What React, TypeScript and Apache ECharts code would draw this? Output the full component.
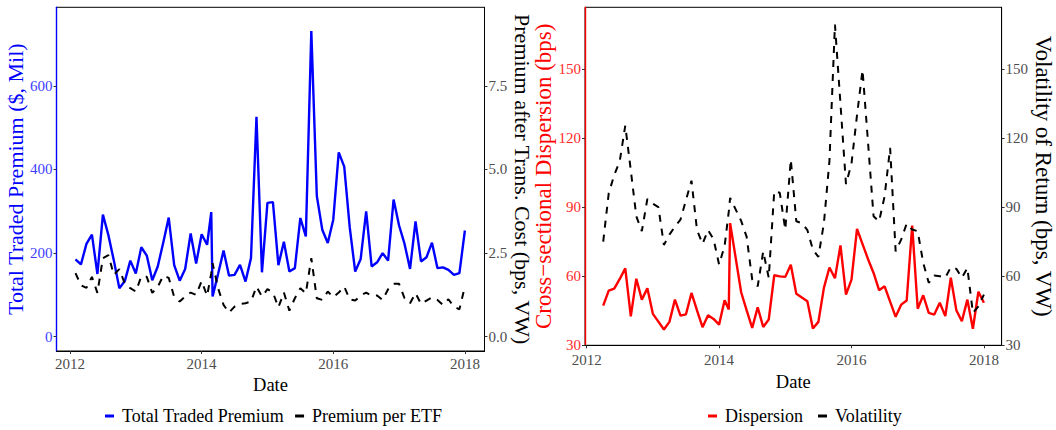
import React, { useEffect, useRef } from 'react';
import * as echarts from 'echarts';

// ---------- Data ----------
const premiumDates = [
  '2012-02', '2012-03', '2012-04', '2012-05', '2012-06', '2012-07', '2012-08', '2012-09', '2012-10', '2012-11', '2012-12',
  '2013-01', '2013-02', '2013-03', '2013-04', '2013-05', '2013-06', '2013-07', '2013-08', '2013-09', '2013-10', '2013-11', '2013-12',
  '2014-01', '2014-02', '2014-02-24', '2014-03', '2014-04', '2014-05', '2014-06', '2014-07', '2014-08', '2014-09', '2014-10', '2014-11', '2014-12',
  '2015-01', '2015-02', '2015-03', '2015-04', '2015-05', '2015-06', '2015-07', '2015-08', '2015-09', '2015-10', '2015-11', '2015-12',
  '2016-01', '2016-02', '2016-03', '2016-04', '2016-05', '2016-06', '2016-07', '2016-08', '2016-09', '2016-10', '2016-11', '2016-12',
  '2017-01', '2017-02', '2017-03', '2017-04', '2017-05', '2017-06', '2017-07', '2017-08', '2017-09', '2017-10', '2017-11', '2017-12',
  '2018-01',
];

// Total Traded Premium ($, Mil)
const totalPremium = [
  185, 173, 222, 244, 150, 292, 243, 182, 116, 133, 182,
  151, 214, 194, 135, 168, 225, 285, 171, 134, 162, 247, 175,
  245, 220, 298, 96, 150, 206, 146, 148, 172, 132, 188, 526, 154,
  320, 322, 171, 227, 156, 164, 284, 240, 731, 337, 256, 224,
  280, 441, 407, 262, 156, 186, 300, 168, 178, 200, 182, 328,
  266, 222, 162, 276, 180, 190, 225, 164, 166, 160, 148, 152,
  254,
];

// Premium after Trans. Cost (bps, VW)
const premiumPerEtf = [
  1.9, 1.54, 1.46, 1.79, 1.31, 2.35, 2.44, 1.85, 2.02, 1.58, 1.45,
  1.35, 1.8, 1.79, 1.31, 1.49, 1.82, 1.76, 1.19, 1.05, 1.2, 1.32, 1.25,
  1.66, 1.22, 1.9, 2.2, 1.45, 0.95, 0.72, 0.9, 0.98, 1.0, 1.05, 1.5, 1.2,
  1.42, 1.32, 0.88, 1.32, 0.78, 1.15, 1.45, 1.3, 2.35, 1.15, 1.1, 1.35,
  1.18, 1.32, 1.5, 1.12, 1.08, 1.23, 1.32, 1.23, 1.23, 1.1, 1.42, 1.58,
  1.58, 1.15, 1.0, 1.3, 0.98, 1.08, 1.18, 1.1, 0.95, 1.12, 0.9, 0.82,
  1.5,
];

const dispDates = [
  '2012-04', '2012-05', '2012-06', '2012-07', '2012-08', '2012-09', '2012-10', '2012-11', '2012-12',
  '2013-01', '2013-02', '2013-03', '2013-04', '2013-05', '2013-06', '2013-07', '2013-08', '2013-09', '2013-10', '2013-11', '2013-12',
  '2014-01', '2014-02', '2014-02-24', '2014-03', '2014-04', '2014-05', '2014-06', '2014-07', '2014-08', '2014-09', '2014-10', '2014-11', '2014-12',
  '2015-01', '2015-02', '2015-03', '2015-04', '2015-05', '2015-06', '2015-07', '2015-08', '2015-09', '2015-10', '2015-11', '2015-12',
  '2016-01', '2016-02', '2016-03', '2016-04', '2016-05', '2016-06', '2016-07', '2016-08', '2016-09', '2016-10', '2016-11', '2016-12',
  '2017-01', '2017-02', '2017-03', '2017-04', '2017-05', '2017-06', '2017-07', '2017-08', '2017-09', '2017-10', '2017-11', '2017-12',
  '2018-01',
];

// Cross-sectional Dispersion (bps)
const dispersion = [
  47.1, 53.6, 54.5, 58.7, 63.3, 42.4, 58.8, 49.7, 54.6,
  43.5, 40.1, 36.7, 40.0, 49.7, 42.7, 43.3, 52.6, 45.0, 37.7, 42.9, 41.3,
  38.8, 49.4, 45.4, 83.0, 68.0, 52.9, 45.0, 37.4, 46.3, 37.8, 41.0, 60.3, 59.8,
  59.6, 64.9, 52.2, 50.6, 49.0, 37.1, 40.0, 54.8, 63.7, 59.0, 73.3, 51.9,
  58.4, 80.5, 73.9, 67.3, 61.3, 53.8, 55.5, 48.8, 42.2, 47.5, 49.3, 81.9,
  45.7, 51.6, 43.9, 43.2, 48.3, 42.5, 59.2, 45.1, 40.3, 49.7, 37.0, 53.1,
  48.3,
];

// Volatility of Return (bps, VW)
const volatility = [
  75, 96, 104, 110, 125.5, 106, 86, 79.5, 93.5,
  91.5, 90, 73.5, 78, 81.5, 84.5, 93, 101.5, 80, 74, 80, 76,
  65, 73, 88, 94, 89, 84, 77, 58.5, 55.5, 70.7, 59.2, 96.9, 96.2,
  80.2, 110.7, 83.8, 83, 80, 71.5, 68.3, 83, 110, 169.5, 135, 100,
  109, 130, 149.7, 118, 86, 83.8, 94.7, 115.8, 70.7, 75.8, 82.8, 80.2,
  79.5, 65.7, 57, 60.2, 59.9, 59.2, 63.8, 63.1, 59.2, 63.5, 43.9, 46.8,
  51.9,
];

const xTickValues = [2012, 2014, 2016, 2018];
const premiumTicks = [0, 200, 400, 600];
const perEtfTicks = [0, 2.5, 5, 7.5];
const dispTicks = [30, 60, 90, 120, 150];
const volTicks = [30, 60, 90, 120, 150];

// ---------- helpers ----------
function toYear(d: string): number {
  const parts = d.split('-').map(Number);
  const y = parts[0];
  const m = parts[1];
  const day = parts[2] || 1;
  return y + (m - 1) / 12 + (day - 1) / 365;
}
function pairs(dates: string[], vals: number[]) {
  return dates.map((d, i) => [toYear(d), vals[i]]);
}

const FONT = '"Liberation Serif", "Times New Roman", serif';
const GRAY = '#4D4D4D';
const TICK = '#333333';
const TICK_FONT = 15;

function xAxis(gridIndex: number, min: number, max: number, nameGap: number, labelMargin: number) {
  return {
    type: 'value',
    gridIndex,
    min,
    max,
    name: 'Date',
    nameLocation: 'middle',
    nameGap,
    nameTextStyle: { fontFamily: FONT, fontSize: 18.5, color: '#000' },
    axisLine: { show: true, onZero: false, lineStyle: { color: '#000', width: 1 } },
    axisTick: { show: true, length: 3, lineStyle: { color: TICK }, customValues: xTickValues },
    axisLabel: {
      customValues: xTickValues,
      color: GRAY,
      fontFamily: FONT,
      fontSize: TICK_FONT,
      margin: labelMargin,
      formatter: (v: number) => String(v),
    },
    splitLine: { show: false },
  };
}

function yAxis(opts: {
  gridIndex: number;
  position: 'left' | 'right';
  min: number;
  max: number;
  ticks: number[];
  name: string;
  nameColor: string;
  nameSize: number;
  nameGap: number;
  lineColor: string;
  labelColor: string;
  digits: number;
}) {
  return {
    type: 'value',
    gridIndex: opts.gridIndex,
    position: opts.position,
    min: opts.min,
    max: opts.max,
    name: opts.name,
    nameLocation: 'middle',
    nameGap: opts.nameGap,
    nameRotate: opts.position === 'left' ? 90 : -90,
    nameTextStyle: { fontFamily: FONT, fontSize: opts.nameSize, color: opts.nameColor },
    axisLine: { show: true, onZero: false, lineStyle: { color: opts.lineColor, width: opts.position === 'left' ? 1.4 : 1 } },
    axisTick: { show: true, length: 3, lineStyle: { color: TICK }, customValues: opts.ticks },
    axisLabel: {
      customValues: opts.ticks,
      color: opts.labelColor,
      fontFamily: FONT,
      fontSize: TICK_FONT,
      margin: 4,
      formatter: (v: number) => v.toFixed(opts.digits),
    },
    splitLine: { show: false },
  };
}

export default function App() {
  const ref = useRef<HTMLDivElement>(null);

  useEffect(() => {
    if (!ref.current) return;
    const chart = echarts.init(ref.current, undefined, { renderer: 'svg' });

    const option = {
      animation: false,
      backgroundColor: '#ffffff',
      textStyle: { fontFamily: FONT },
      grid: [
        { left: 56.5, top: 7.3, width: 428, height: 343.7, show: true, borderColor: '#000', borderWidth: 1, backgroundColor: 'transparent' },
        { left: 585, top: 7.3, width: 424, height: 338, show: true, borderColor: '#000', borderWidth: 1, backgroundColor: 'transparent' },
      ],
      xAxis: [xAxis(0, 2011.795, 2018.298, 19, 5), xAxis(1, 2011.975, 2018.267, 21, 7)],
      yAxis: [
        yAxis({ gridIndex: 0, position: 'left', min: -34.2, max: 788, ticks: premiumTicks, name: 'Total Traded Premium ($, Mil)', nameColor: '#0000FF', nameSize: 22, nameGap: 27, lineColor: '#0000FF', labelColor: '#3D3DFF', digits: 0 }),
        yAxis({ gridIndex: 0, position: 'right', min: -34.2 / 80, max: 788 / 80, ticks: perEtfTicks, name: 'Premium after Trans. Cost (bps, VW)', nameColor: '#000', nameSize: 22, nameGap: 17, lineColor: '#000', labelColor: GRAY, digits: 1 }),
        yAxis({ gridIndex: 1, position: 'left', min: 29.8, max: 177, ticks: dispTicks, name: 'Cross\u2212sectional Dispersion (bps)', nameColor: '#FF0000', nameSize: 23, nameGap: 27, lineColor: '#FF0000', labelColor: '#FF2A2A', digits: 0 }),
        yAxis({ gridIndex: 1, position: 'right', min: 29.8, max: 177, ticks: volTicks, name: 'Volatility of Return (bps, VW)', nameColor: '#000', nameSize: 23, nameGap: 20, lineColor: '#000', labelColor: GRAY, digits: 0 }),
      ],
      legend: [
        {
          data: ['Total Traded Premium', 'Premium per ETF'],
          left: 100,
          top: 402,
          icon: 'rect',
          itemWidth: 9,
          itemHeight: 3,
          itemGap: 11,
          textStyle: { fontFamily: FONT, fontSize: 18, color: '#000', padding: [0, 0, 0, 3] },
        },
        {
          data: ['Dispersion', 'Volatility'],
          left: 703,
          top: 402,
          icon: 'rect',
          itemWidth: 9,
          itemHeight: 3,
          itemGap: 15,
          textStyle: { fontFamily: FONT, fontSize: 18, color: '#000', padding: [0, 0, 0, 3] },
        },
      ],
      series: [
        {
          name: 'Total Traded Premium',
          type: 'line',
          xAxisIndex: 0,
          yAxisIndex: 0,
          showSymbol: false,
          color: '#0000FF',
          lineStyle: { color: '#0000FF', width: 2.4 },
          data: pairs(premiumDates, totalPremium),
        },
        {
          name: 'Premium per ETF',
          type: 'line',
          xAxisIndex: 0,
          yAxisIndex: 1,
          showSymbol: false,
          color: '#000000',
          lineStyle: { color: '#000000', width: 2, type: [7, 7] },
          data: pairs(premiumDates, premiumPerEtf),
        },
        {
          name: 'Dispersion',
          type: 'line',
          xAxisIndex: 1,
          yAxisIndex: 2,
          showSymbol: false,
          color: '#FF0000',
          lineStyle: { color: '#FF0000', width: 2.4 },
          data: pairs(dispDates, dispersion),
        },
        {
          name: 'Volatility',
          type: 'line',
          xAxisIndex: 1,
          yAxisIndex: 3,
          showSymbol: false,
          color: '#000000',
          lineStyle: { color: '#000000', width: 2, type: [7, 7] },
          data: pairs(dispDates, volatility),
        },
      ],
    };

    chart.setOption(option as any);
    return () => {
      chart.dispose();
    };
  }, []);

  return (
    <div
      ref={ref}
      style={{ position: 'fixed', left: 0, top: 0, width: 1056, height: 430, background: '#fff' }}
    />
  );
}
